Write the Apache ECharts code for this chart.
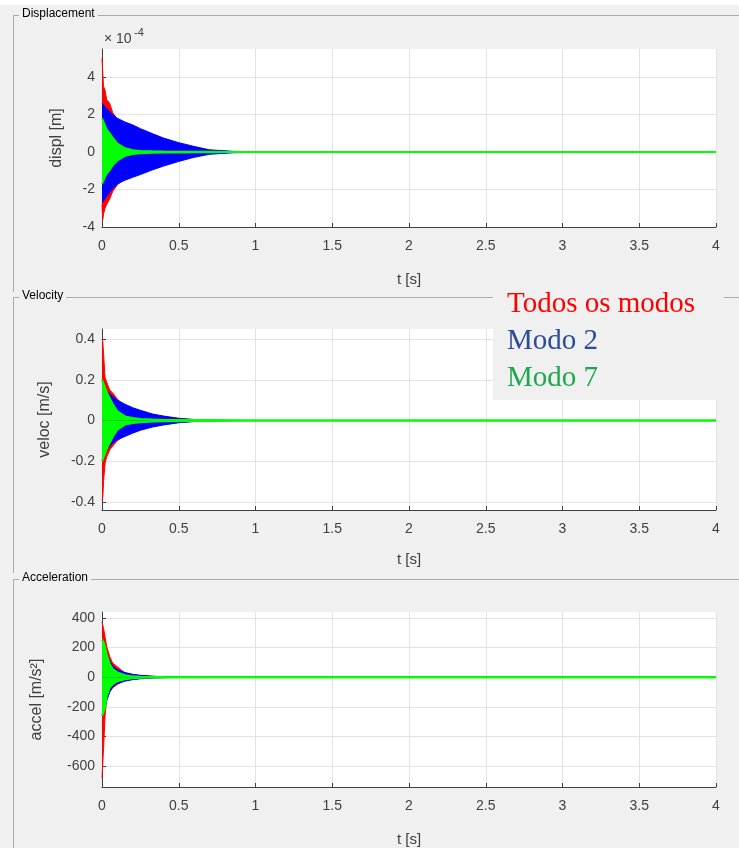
<!DOCTYPE html>
<html>
<head>
<meta charset="utf-8">
<script src="https://cdn.jsdelivr.net/npm/echarts@6/dist/echarts.min.js"></script>
<style>
  html, body { margin: 0; padding: 0; background: #f0f0f0; }
  #chart { width: 739px; height: 848px; }
</style>
</head>
<body>
<div id="chart"></div>
<script>
const tSamples = [0, 0.005, 0.01, 0.02, 0.03, 0.05, 0.07, 0.1, 0.15, 0.2, 0.25, 0.33, 0.4, 0.5, 0.6, 0.7, 0.85, 1.0, 4.0]
const xTicks = [0, 0.5, 1, 1.5, 2, 2.5, 3, 3.5, 4]

// displacement, in units of 1e-4 m (upper / lower envelope)
const displTodosUp = [5.0, 4.2, 3.5, 3.3, 2.8, 2.6, 2.1, 1.75, 1.4, 1.2, 1.0, 0.8, 0.6, 0.4, 0.2, 0.08, 0.02, 0.005, 0]
const displTodosLo = [-2.8, -3.6, -3.3, -3.0, -2.8, -2.5, -2.1, -1.75, -1.4, -1.2, -1.0, -0.8, -0.6, -0.4, -0.2, -0.08, -0.02, -0.005, 0]
const displModo2Up = [2.6, 2.55, 2.5, 2.4, 2.3, 2.15, 2.0, 1.8, 1.6, 1.45, 1.25, 0.98, 0.75, 0.5, 0.3, 0.12, 0.04, 0.01, 0]
const displModo2Lo = [-2.7, -2.7, -2.6, -2.5, -2.35, -2.15, -1.95, -1.7, -1.5, -1.35, -1.2, -0.95, -0.75, -0.5, -0.28, -0.12, -0.04, -0.01, 0]
const displModo7Up = [1.8, 1.7, 1.6, 1.4, 1.2, 1.0, 0.75, 0.45, 0.2, 0.1, 0.06, 0.04, 0.03, 0.02, 0.01, 0.01, 0, 0, 0]
const displModo7Lo = [-1.7, -1.6, -1.5, -1.3, -1.15, -0.95, -0.7, -0.45, -0.2, -0.1, -0.06, -0.04, -0.03, -0.02, -0.01, -0.01, 0, 0, 0]

// velocity [m/s]
const velocTodosUp = [0.40, 0.39, 0.33, 0.21, 0.19, 0.15, 0.135, 0.105, 0.07, 0.055, 0.042, 0.028, 0.018, 0.009, 0.004, 0.001, 0, 0, 0]
const velocTodosLo = [-0.39, -0.38, -0.30, -0.21, -0.18, -0.145, -0.125, -0.1, -0.07, -0.055, -0.042, -0.028, -0.018, -0.009, -0.004, -0.001, 0, 0, 0]
const velocModo2Up = [0.2, 0.19, 0.18, 0.16, 0.145, 0.13, 0.118, 0.1, 0.08, 0.063, 0.05, 0.032, 0.022, 0.011, 0.005, 0.002, 0, 0, 0]
const velocModo2Lo = [-0.19, -0.19, -0.18, -0.16, -0.145, -0.125, -0.11, -0.095, -0.078, -0.062, -0.048, -0.032, -0.022, -0.011, -0.005, -0.002, 0, 0, 0]
const velocModo7Up = [0.2, 0.19, 0.18, 0.16, 0.14, 0.11, 0.08, 0.045, 0.02, 0.012, 0.008, 0.005, 0.004, 0.003, 0.002, 0.002, 0.001, 0, 0]
const velocModo7Lo = [-0.2, -0.19, -0.18, -0.16, -0.14, -0.11, -0.08, -0.045, -0.02, -0.012, -0.008, -0.005, -0.004, -0.003, -0.002, -0.002, -0.001, 0, 0]

// acceleration [m/s²]
const accelTodosUp = [370, 360, 330, 270, 210, 140, 95, 70, 28, 17, 11, 6, 3, 1, 0, 0, 0, 0, 0]
const accelTodosLo = [-680, -690, -480, -260, -150, -100, -70, -48, -22, -14, -8, -4, -2, -0.5, 0, 0, 0, 0, 0]
const accelModo2Up = [250, 240, 230, 200, 165, 110, 75, 50, 32, 20, 13, 7, 4, 1.5, 0.5, 0, 0, 0, 0]
const accelModo2Lo = [-250, -240, -230, -200, -160, -100, -65, -42, -26, -16, -10, -5, -2.5, -1, 0, 0, 0, 0, 0]
const accelModo7Up = [255, 245, 235, 205, 155, 90, 55, 33, 14, 6, 3, 1.5, 1, 0.5, 0, 0, 0, 0, 0]
const accelModo7Lo = [-260, -250, -235, -200, -130, -70, -47, -27, -13, -6, -3, -1.5, -1, -0.5, 0, 0, 0, 0, 0]

const legendNames = ['Todos os modos', 'Modo 2', 'Modo 7']

const chart = echarts.init(document.getElementById('chart'))

const axisColor = '#404040'
const gridColor = '#e3e3e3'
const boxColor = '#ababab'

// plot areas of the three panels (px)
const grids = [
  { left: 102, top: 49, width: 614, height: 178 },
  { left: 102, top: 329, width: 614, height: 181 },
  { left: 102, top: 612, width: 614, height: 178 }
]

const panels = [
  { yName: 'displ [m]', nameGap: 37, min: -4, max: 5.5, split: 5,
    data: [[displTodosUp, displTodosLo], [displModo2Up, displModo2Lo], [displModo7Up, displModo7Lo]] },
  { yName: 'veloc [m/s]', nameGap: 49, min: -0.44, max: 0.45, split: 4,
    data: [[velocTodosUp, velocTodosLo], [velocModo2Up, velocModo2Lo], [velocModo7Up, velocModo7Lo]] },
  { yName: 'accel [m/s²]', nameGap: 57, min: -740, max: 440, split: 6,
    data: [[accelTodosUp, accelTodosLo], [accelModo2Up, accelModo2Lo], [accelModo7Up, accelModo7Lo]] }
]

const seriesColors = ['#ff0000', '#0000ff', '#00ff00']
const lineWidths = [1, 1, 2]

const xAxes = []
const yAxes = []
const series = []

panels.forEach((p, i) => {
  xAxes.push({
    gridIndex: i,
    type: 'value',
    min: xTicks[0],
    max: xTicks[xTicks.length - 1],
    interval: 0.5,
    name: 't [s]',
    nameLocation: 'middle',
    nameGap: i === 1 ? 42 : 45,
    nameTextStyle: { fontSize: 15, color: axisColor, fontFamily: 'Liberation Sans' },
    axisLine: { onZero: false, lineStyle: { color: axisColor, width: 1 } },
    axisTick: { inside: true, length: 4, lineStyle: { color: axisColor } },
    axisLabel: { fontSize: 14, color: axisColor, margin: 12, fontFamily: 'Liberation Sans' },
    splitLine: { show: true, lineStyle: { color: gridColor, width: 1 } }
  })
  yAxes.push({
    gridIndex: i,
    type: 'value',
    min: p.min,
    max: p.max,
    splitNumber: p.split,
    name: p.yName,
    nameLocation: 'middle',
    nameGap: p.nameGap,
    nameTextStyle: { fontSize: 16, color: axisColor, fontFamily: 'Liberation Sans' },
    axisLine: { show: true, lineStyle: { color: axisColor, width: 1 } },
    axisTick: { show: true, inside: true, length: 4, lineStyle: { color: axisColor } },
    axisLabel: {
      fontSize: 14, color: axisColor, margin: 7, fontFamily: 'Liberation Sans',
      showMinLabel: i === 0, showMaxLabel: false
    },
    splitLine: { show: true, showMaxLine: false, lineStyle: { color: gridColor, width: 1 } }
  })
  p.data.forEach((pair, k) => {
    pair.forEach(vals => {
      series.push({
        name: legendNames[k],
        type: 'line',
        xAxisIndex: i,
        yAxisIndex: i,
        z: 2 + k, // red below blue below green
        data: tSamples.map((t, j) => [t, vals[j]]),
        symbol: 'none',
        silent: true,
        lineStyle: { color: seriesColors[k], width: lineWidths[k] },
        areaStyle: { color: seriesColors[k], opacity: 1, origin: 0 },
        animation: false
      })
    })
  })
})

// group box frames (MATLAB uipanel look)
const boxTops = [15, 297, 579]
const boxTitles = ['Displacement', 'Velocity', 'Acceleration']
const boxBottoms = [292, 573, 848]
const graphic = [
  { type: 'rect', shape: { x: 0, y: 0, width: 739, height: 5 }, style: { fill: '#ffffff' }, silent: true }
]
boxTops.forEach((y, i) => {
  graphic.push({ type: 'line', shape: { x1: 13, y1: y + 0.5, x2: 739, y2: y + 0.5 }, style: { stroke: boxColor, lineWidth: 1 }, silent: true })
  graphic.push({ type: 'line', shape: { x1: 13.5, y1: y, x2: 13.5, y2: boxBottoms[i] }, style: { stroke: boxColor, lineWidth: 1 }, silent: true })
  graphic.push({
    type: 'text', left: 19, top: y - 7, silent: true,
    style: { text: boxTitles[i], fontSize: 12, fill: '#000', fontFamily: 'Liberation Sans', backgroundColor: '#f0f0f0', padding: [0, 3, 0, 3] }
  })
})

// ×10^-4 exponent of the displacement axis
graphic.push({
  type: 'text', left: 104, top: 32, silent: true,
  style: { text: '× 10', fontSize: 14, fill: axisColor, fontFamily: 'Liberation Sans' }
})
graphic.push({
  type: 'text', left: 134, top: 27, silent: true,
  style: { text: '-4', fontSize: 11, fill: axisColor, fontFamily: 'Liberation Sans' }
})

// legend block drawn over the velocity panel
graphic.push({ type: 'rect', shape: { x: 493, y: 280, width: 231, height: 120 }, style: { fill: '#f0f0f0' }, silent: true, z: 10 })
const legendColors = ['#ff0000', '#2b4c9b', '#1ea84e']
const legendBaselines = [313, 350, 387]
legendNames.forEach((n, k) => {
  graphic.push({
    type: 'text', left: 507, top: legendBaselines[k] - 23, silent: true, z: 11,
    style: { text: n, fontSize: 29, fill: legendColors[k], fontFamily: 'Liberation Serif' }
  })
})

chart.setOption({
  backgroundColor: '#f0f0f0',
  animation: false,
  grid: grids.map(g => Object.assign({ show: true, backgroundColor: '#ffffff', borderWidth: 0 }, g)),
  xAxis: xAxes,
  yAxis: yAxes,
  series: series,
  graphic: graphic
})
</script>
</body>
</html>
